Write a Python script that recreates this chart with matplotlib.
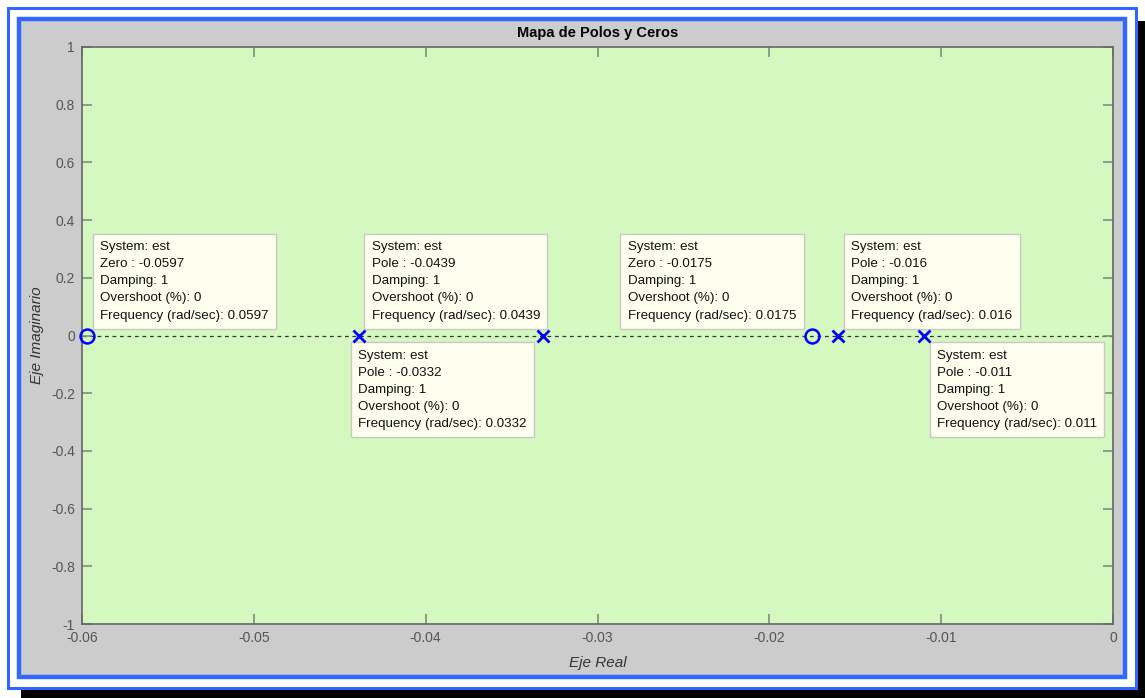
import matplotlib.pyplot as plt
from matplotlib.patches import Rectangle

# pole/zero data for system "est"
zeros = [-0.0597, -0.0175]
poles = [-0.0439, -0.0332, -0.016, -0.011]

# datatip layout: (kind, value, dx px, dy px, ha, va)
tips = [
    ("Zero", -0.0597, 13, 14, "left", "bottom"),
    ("Pole", -0.0439, 13, 14, "left", "bottom"),
    ("Pole", -0.0332, -16, -14, "right", "top"),
    ("Zero", -0.0175, -16, 14, "right", "bottom"),
    ("Pole", -0.016, 13, 14, "left", "bottom"),
    ("Pole", -0.011, 13, -14, "left", "top"),
]

W, H = 1145, 698
plt.rcParams['font.family'] = ['Liberation Sans', 'DejaVu Sans']
fig = plt.figure(figsize=(W / 100, H / 100), dpi=100, facecolor='white')


def frect(x0, y0, x1, y1, **kw):
    # rectangle given in pixel coords (origin top-left)
    r = Rectangle((x0 / W, 1 - y1 / H), (x1 - x0) / W, (y1 - y0) / H,
                  transform=fig.transFigure, figure=fig, **kw)
    fig.patches.append(r)


# window frame with drop shadow
frect(21, 21, 1145, 698, facecolor='black', edgecolor='none', zorder=0)
frect(8, 8, 1136, 688, facecolor='white', edgecolor='#3366ff', linewidth=2.2, zorder=1)
frect(19, 19, 1125, 677, facecolor='#cccccc', edgecolor='#3366ff', linewidth=3.2, zorder=2)

ax = fig.add_axes([82 / W, 1 - 624 / H, 1031 / W, 577 / H], zorder=3)
ax.set_facecolor('#d5f8c0')
for s in ax.spines.values():
    s.set_color('#666666')
    s.set_linewidth(1.2)

ax.axhline(0, color='#333333', linestyle=(0, (3, 3)), linewidth=0.9, zorder=1)

ax.plot(poles, [0] * len(poles), linestyle='none', marker='x', markersize=9,
        markeredgewidth=2, color='#0000ff', zorder=5, clip_on=False)
ax.plot(zeros, [0] * len(zeros), linestyle='none', marker='o', markersize=10,
        markeredgewidth=1.8, markerfacecolor='none', color='#0000ff', zorder=5,
        clip_on=False)

for kind, val, dx, dy, ha, va in tips:
    txt = ("System: est\n%s : %g\nDamping: 1\nOvershoot (%%): 0\n"
           "Frequency (rad/sec): %g" % (kind, val, -val))
    ax.annotate(txt, xy=(val, 0), xytext=(dx, dy), textcoords='offset pixels',
                ha=ha, va=va, multialignment='left', fontsize=9.6,
                color='#111111', linespacing=1.57,
                bbox=dict(boxstyle='square,pad=0.55', facecolor='#fffff0',
                          edgecolor='#c8c8c8', linewidth=1), zorder=4)

ax.set_xlim(-0.06, 0)
ax.set_ylim(-1, 1)
ax.set_xticks([-0.06, -0.05, -0.04, -0.03, -0.02, -0.01, 0])
ax.set_xticklabels(['-0.06', '-0.05', '-0.04', '-0.03', '-0.02', '-0.01', '0'])
ax.set_yticks([-1, -0.8, -0.6, -0.4, -0.2, 0, 0.2, 0.4, 0.6, 0.8, 1])
ax.set_yticklabels(['-1', '-0.8', '-0.6', '-0.4', '-0.2', '0', '0.2', '0.4',
                    '0.6', '0.8', '1'])
ax.tick_params(direction='in', length=7, width=1.2, color='#7d8f7d',
               labelcolor='#555555', labelsize=10, top=True, right=True, pad=5)

ax.set_title('Mapa de Polos y Ceros', fontsize=10.5, fontweight='bold', pad=7)
ax.set_xlabel('Eje Real', fontsize=11, style='italic', color='#333333', labelpad=8)
ax.set_ylabel('Eje Imaginario', fontsize=11, style='italic', color='#333333', labelpad=5)

fig.savefig('out.png', dpi=100, facecolor='white')
